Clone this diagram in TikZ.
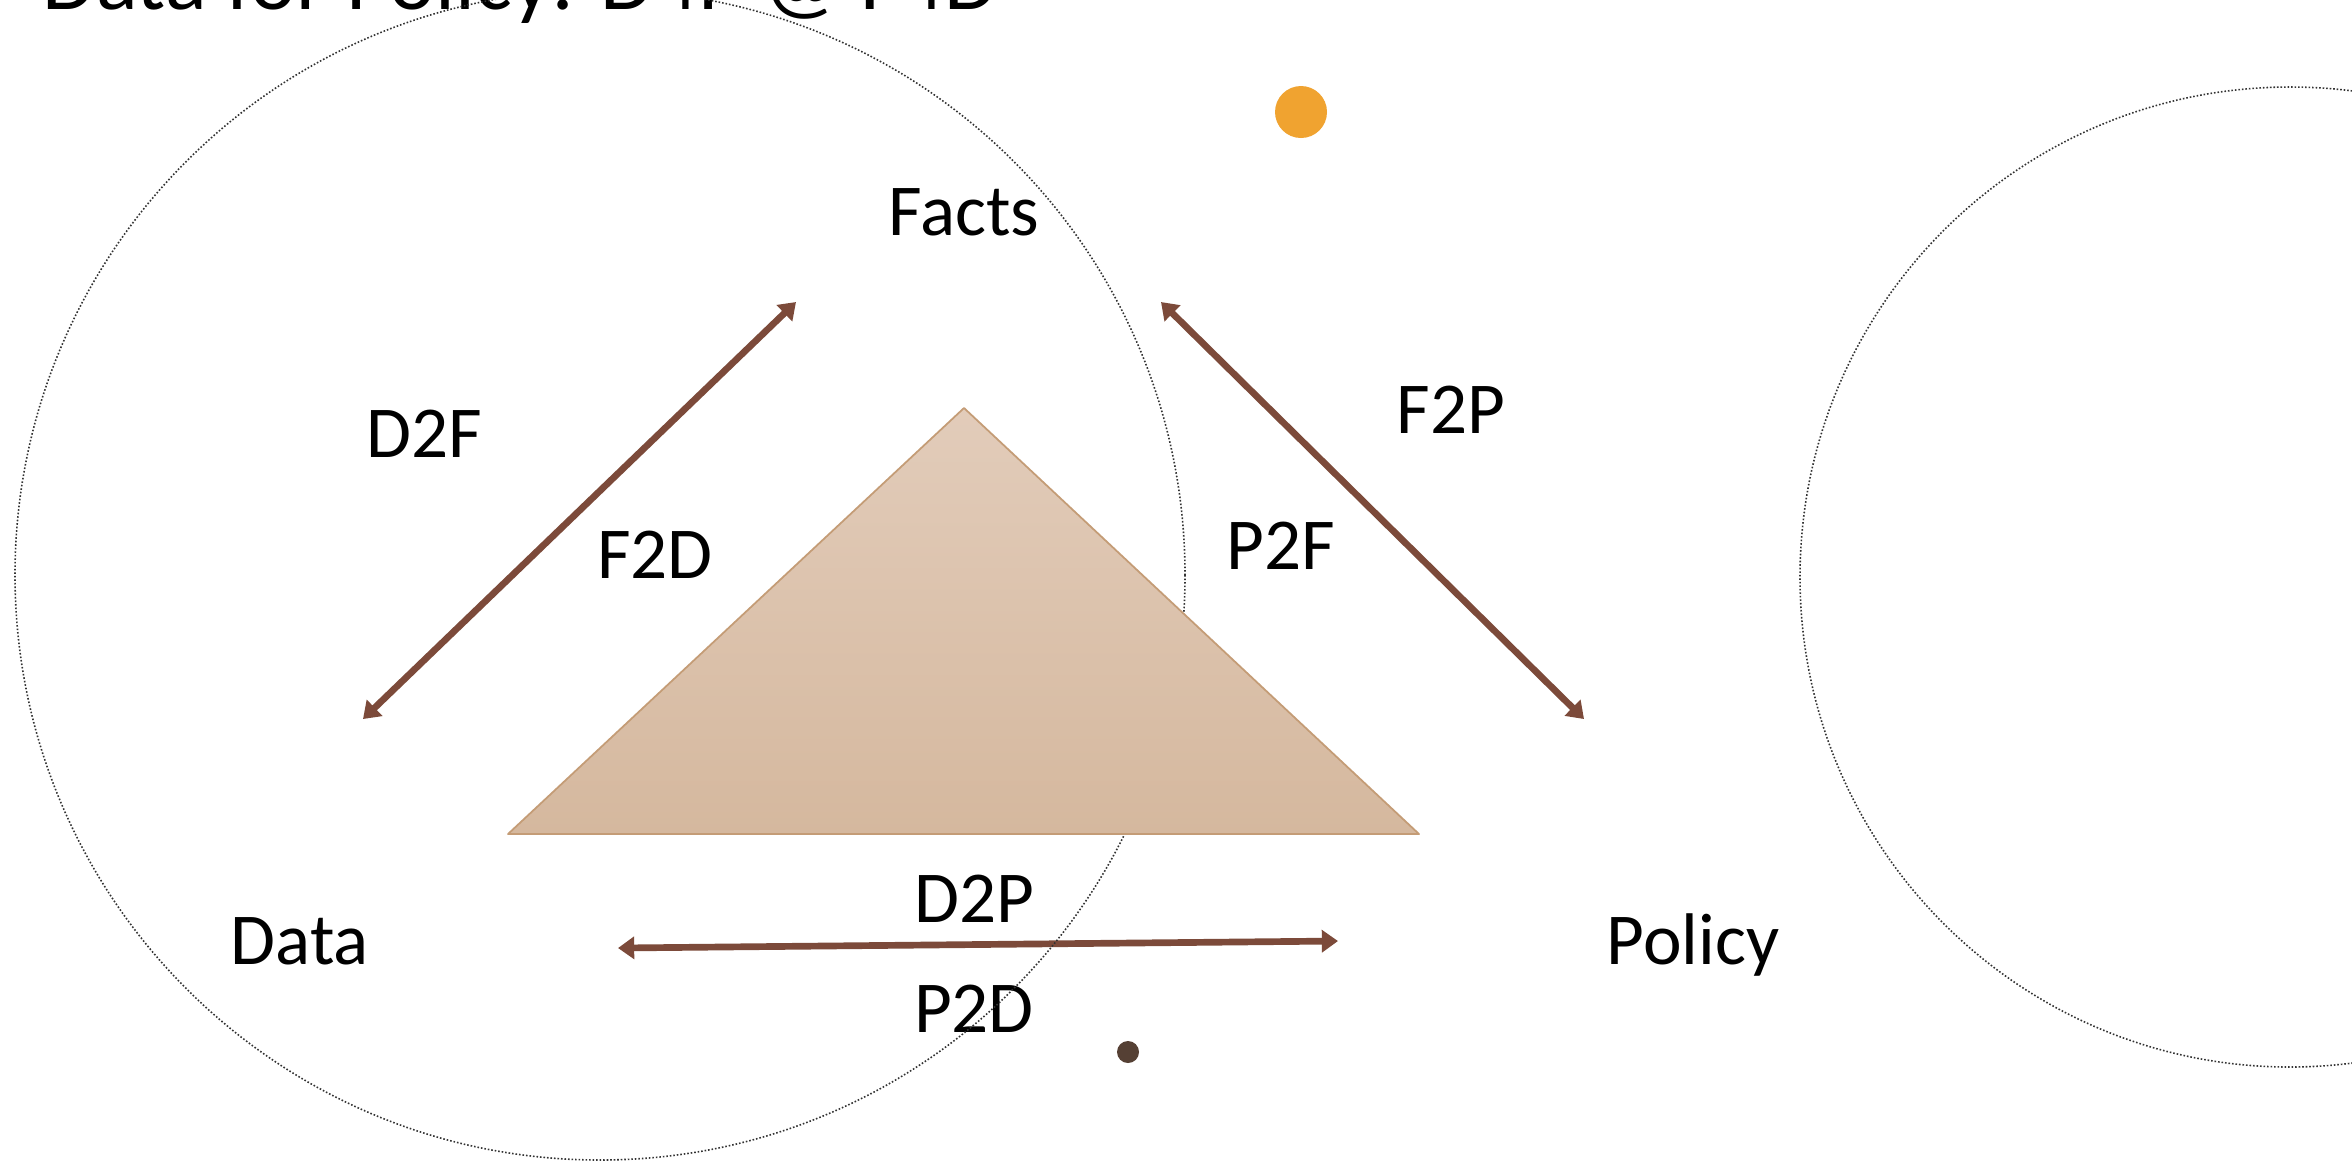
\documentclass[tikz,border=0pt]{standalone}
\usepackage{fontspec}
\setmainfont{Carlito}
\usetikzlibrary{arrows.meta}
\definecolor{arrowbrown}{RGB}{124,74,58}
\definecolor{triTop}{RGB}{226,204,186}
\definecolor{triBot}{RGB}{213,184,158}
\definecolor{triEdge}{RGB}{196,156,118}
\definecolor{dotOrange}{RGB}{240,163,48}
\definecolor{dotBrown}{RGB}{85,64,52}
\tikzset{
  lbl/.style={anchor=base, inner sep=0pt, font=\fontsize{20.8}{25}\selectfont},
  link/.style={draw=arrowbrown, line width=1.9pt, {Triangle[length=4.6pt,width=6.2pt]}-{Triangle[length=4.6pt,width=6.2pt]}},
  ring/.style={draw=black!80, line width=0.45pt, dash pattern=on 0.45pt off 0.55pt},
}
\begin{document}
\begin{tikzpicture}[x=0.01cm,y=-0.01cm]
\path[use as bounding box, fill=white] (0,0) rectangle (2352,1162);
% title (cut at the top, as in the reference)
\node[anchor=base west, inner sep=0pt, font=\fontsize{24.7}{29}\selectfont] (title) at (42,9) {Data for Policy: D4P @ F4D};
% labels
\node[lbl] (facts) at (964,235) {Facts};
\node[lbl] (data) at (300,964) {Data};
\node[lbl] (policy) at (1693,964) {Policy};
\node[lbl] (d2f) at (424,457) {D2F};
\node[lbl] (f2d) at (655,578) {F2D};
\node[lbl] (f2p) at (1451,433) {F2P};
\node[lbl] (p2f) at (1281,569) {P2F};
\node[lbl] (d2p) at (974,922) {D2P};
\node[lbl] (p2d) at (974,1032) {P2D};
% arrow end points
\coordinate (dfA) at (363,719);
\coordinate (dfB) at (796,302);
\coordinate (fpA) at (1161,302);
\coordinate (fpB) at (1584,719);
\coordinate (dpA) at (618,948);
\coordinate (dpB) at (1338,941);
\draw[link] (dfA) -- (dfB);
\draw[link] (fpA) -- (fpB);
\draw[link] (dpA) -- (dpB);
% circles
\draw[ring] (600,575) circle [radius=585];
\draw[ring] (2290,577) circle [radius=490];
% triangle
\coordinate (apex) at (964,408);
\coordinate (bl) at (508,834);
\coordinate (br) at (1419,834);
\shade[top color=triTop, bottom color=triBot] (apex) -- (br) -- (bl) -- cycle;
\draw[triEdge, line width=0.5pt, line join=round] (apex) -- (br) -- (bl) -- cycle;
% dots
\fill[dotOrange] (1301,112) circle [radius=26];
\fill[dotBrown] (1128,1052) circle [radius=11];
\end{tikzpicture}
\end{document}
